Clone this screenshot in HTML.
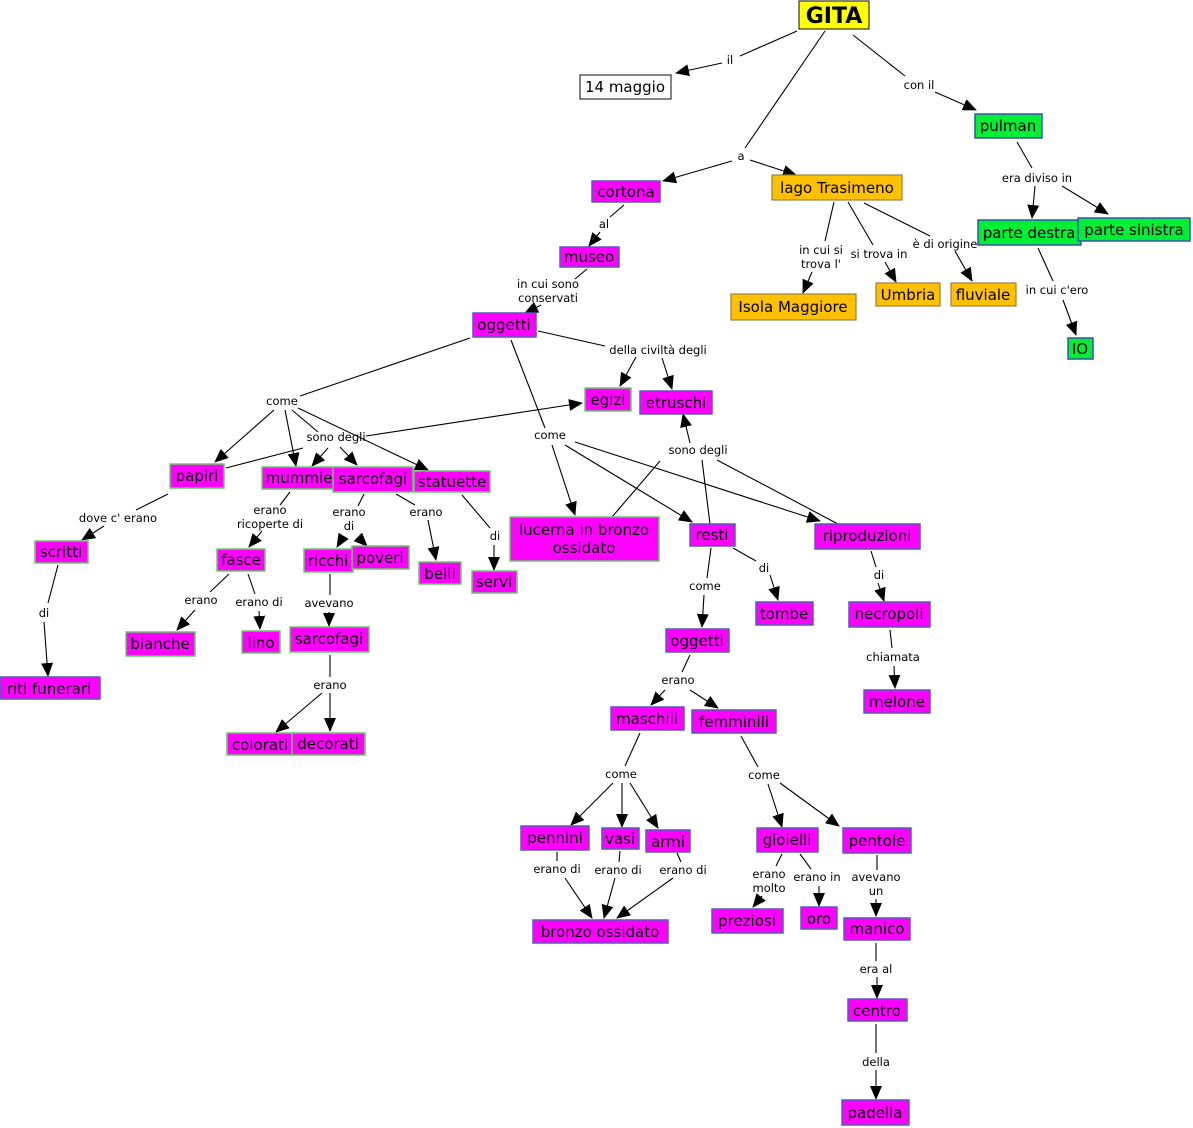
<!DOCTYPE html>
<html><head><meta charset="utf-8"><style>
html,body{margin:0;padding:0;background:#fff;}
svg{display:block;}
.n{font-family:"DejaVu Sans","Liberation Sans",sans-serif;font-size:15px;text-anchor:middle;fill:#000;}
.l{font-family:"DejaVu Sans","Liberation Sans",sans-serif;font-size:11.5px;text-anchor:middle;fill:#000;}
.m{fill:#ff00ff;stroke:#5a5ab8;stroke-width:1.5;}
.g{fill:#ff00ff;stroke:#6c6;stroke-width:1.5;}
.gr{fill:#00ee33;stroke:#3355aa;stroke-width:1.5;}
.o{fill:#ffc000;stroke:#9a8040;stroke-width:1.2;}
line{stroke:#000;stroke-width:1.1;}
line.a{marker-end:url(#ar);}
</style></head><body>
<svg width="1193" height="1128" viewBox="0 0 1193 1128" xmlns="http://www.w3.org/2000/svg">
<defs><marker id="ar" markerUnits="userSpaceOnUse" markerWidth="14" markerHeight="12" refX="13" refY="6" orient="auto"><path d="M0,0 L14,6 L0,12 z" fill="#000"/></marker></defs>

<!-- lines -->
<line x1="797" y1="31" x2="740" y2="56"/><line class="a" x1="722" y1="63" x2="676" y2="73"/>
<line x1="825" y1="31" x2="745" y2="148"/><line class="a" x1="732" y1="161" x2="663" y2="181"/><line class="a" x1="750" y1="160" x2="796" y2="175"/>
<line x1="853" y1="35" x2="905" y2="76"/><line class="a" x1="935" y1="92" x2="976" y2="110"/>
<line x1="1017" y1="142" x2="1032" y2="168"/><line class="a" x1="1035" y1="186" x2="1032" y2="218"/><line class="a" x1="1062" y1="186" x2="1108" y2="214"/>
<line x1="1038" y1="248" x2="1053" y2="281"/><line class="a" x1="1063" y1="300" x2="1076" y2="335"/>
<line x1="834" y1="202" x2="825" y2="241"/><line class="a" x1="812" y1="272" x2="803" y2="293"/>
<line x1="848" y1="202" x2="873" y2="245"/><line class="a" x1="885" y1="262" x2="896" y2="282"/>
<line x1="864" y1="203" x2="930" y2="236"/><line class="a" x1="955" y1="251" x2="972" y2="281"/>
<line x1="624" y1="205" x2="610" y2="217"/><line class="a" x1="600" y1="232" x2="589" y2="246"/>
<line x1="587" y1="269" x2="575" y2="279"/><line class="a" x1="541" y1="305" x2="525" y2="313"/>
<line x1="538" y1="331" x2="605" y2="346"/><line class="a" x1="636" y1="357" x2="620" y2="386"/><line class="a" x1="662" y1="358" x2="672" y2="389"/>
<line x1="470" y1="338" x2="300" y2="396"/>
<line class="a" x1="274" y1="410" x2="215" y2="462"/>
<line class="a" x1="285" y1="410" x2="296" y2="466"/>
<line x1="292" y1="410" x2="318" y2="432"/>
<line class="a" x1="298" y1="408" x2="428" y2="470"/>
<line class="a" x1="366" y1="436" x2="582" y2="403"/>
<line x1="226" y1="468" x2="303" y2="448"/>
<line class="a" x1="328" y1="448" x2="312" y2="466"/>
<line class="a" x1="340" y1="447" x2="357" y2="465"/>
<line x1="511" y1="340" x2="545" y2="428"/>
<line class="a" x1="552" y1="445" x2="575" y2="515"/>
<line class="a" x1="565" y1="445" x2="692" y2="522"/>
<line class="a" x1="575" y1="442" x2="820" y2="521"/>
<line class="a" x1="690" y1="443" x2="683" y2="414"/>
<line x1="660" y1="461" x2="612" y2="517"/>
<line x1="702" y1="460" x2="710" y2="524"/>
<line x1="717" y1="460" x2="838" y2="524"/>
<line x1="168" y1="494" x2="136" y2="510"/><line class="a" x1="104" y1="526" x2="82" y2="540"/>
<line x1="58" y1="565" x2="48" y2="603"/><line class="a" x1="44" y1="622" x2="48" y2="676"/>
<line x1="290" y1="492" x2="280" y2="505"/><line class="a" x1="262" y1="531" x2="249" y2="547"/>
<line x1="229" y1="574" x2="210" y2="592"/><line class="a" x1="195" y1="610" x2="177" y2="630"/>
<line x1="248" y1="574" x2="255" y2="594"/><line class="a" x1="259" y1="611" x2="260" y2="629"/>
<line x1="364" y1="494" x2="358" y2="506"/><line class="a" x1="343" y1="537" x2="337" y2="547"/><line class="a" x1="358" y1="537" x2="367" y2="546"/>
<line x1="396" y1="494" x2="415" y2="505"/><line class="a" x1="428" y1="520" x2="436" y2="560"/>
<line x1="462" y1="495" x2="490" y2="528"/><line class="a" x1="494" y1="545" x2="494" y2="570"/>
<line x1="330" y1="574" x2="330" y2="595"/><line class="a" x1="329" y1="612" x2="329" y2="626"/>
<line x1="330" y1="655" x2="330" y2="677"/><line class="a" x1="322" y1="693" x2="276" y2="732"/><line class="a" x1="330" y1="693" x2="330" y2="731"/>
<line x1="711" y1="548" x2="707" y2="578"/><line class="a" x1="704" y1="595" x2="702" y2="627"/>
<line x1="733" y1="548" x2="756" y2="561"/><line class="a" x1="770" y1="575" x2="778" y2="600"/>
<line x1="871" y1="551" x2="876" y2="567"/><line class="a" x1="878" y1="583" x2="884" y2="601"/>
<line x1="890" y1="630" x2="892" y2="648"/><line class="a" x1="894" y1="666" x2="895" y2="688"/>
<line x1="690" y1="655" x2="682" y2="672"/><line class="a" x1="665" y1="690" x2="651" y2="705"/><line class="a" x1="690" y1="690" x2="718" y2="708"/>
<line x1="640" y1="733" x2="625" y2="766"/><line class="a" x1="613" y1="783" x2="571" y2="825"/><line class="a" x1="622" y1="783" x2="622" y2="827"/><line class="a" x1="630" y1="783" x2="658" y2="828"/>
<line x1="741" y1="736" x2="758" y2="767"/><line class="a" x1="768" y1="784" x2="782" y2="827"/><line class="a" x1="780" y1="783" x2="839" y2="826"/>
<line x1="557" y1="852" x2="557" y2="861"/><line class="a" x1="565" y1="878" x2="592" y2="918"/>
<line x1="620" y1="851" x2="619" y2="862"/><line class="a" x1="615" y1="878" x2="604" y2="918"/>
<line x1="677" y1="853" x2="681" y2="862"/><line class="a" x1="673" y1="878" x2="617" y2="918"/>
<line x1="782" y1="854" x2="776" y2="866"/><line class="a" x1="762" y1="896" x2="753" y2="907"/>
<line x1="800" y1="854" x2="811" y2="869"/><line class="a" x1="819" y1="886" x2="819" y2="906"/>
<line x1="877" y1="855" x2="877" y2="870"/><line class="a" x1="876" y1="899" x2="876" y2="916"/>
<line x1="876" y1="943" x2="876" y2="961"/><line class="a" x1="877" y1="977" x2="877" y2="998"/>
<line x1="876" y1="1024" x2="876" y2="1053"/><line class="a" x1="876" y1="1070" x2="876" y2="1099"/>

<!-- labels -->
<g class="l">
<text x="730" y="64">il</text>
<text x="741" y="160">a</text>
<text x="919" y="89">con il</text>
<text x="1037" y="182">era diviso in</text>
<text x="1057" y="294">in cui c'ero</text>
<text x="821" y="254">in cui si</text><text x="821" y="268">trova l'</text>
<text x="879" y="258">si trova in</text>
<text x="945" y="248">è di origine</text>
<text x="604" y="228">al</text>
<text x="548" y="288">in cui sono</text><text x="548" y="302">conservati</text>
<text x="658" y="354">della civiltà degli</text>
<text x="282" y="405">come</text>
<text x="336" y="441">sono degli</text>
<text x="550" y="439">come</text>
<text x="698" y="454">sono degli</text>
<text x="118" y="522">dove c' erano</text>
<text x="44" y="617">di</text>
<text x="270" y="514">erano</text><text x="270" y="528">ricoperte di</text>
<text x="201" y="604">erano</text>
<text x="259" y="606">erano di</text>
<text x="349" y="516">erano</text><text x="349" y="530">di</text>
<text x="426" y="516">erano</text>
<text x="495" y="540">di</text>
<text x="329" y="607">avevano</text>
<text x="330" y="689">erano</text>
<text x="705" y="590">come</text>
<text x="764" y="572">di</text>
<text x="879" y="579">di</text>
<text x="893" y="661">chiamata</text>
<text x="678" y="684">erano</text>
<text x="621" y="778">come</text>
<text x="764" y="779">come</text>
<text x="557" y="873">erano di</text>
<text x="618" y="874">erano di</text>
<text x="683" y="874">erano di</text>
<text x="769" y="878">erano</text><text x="769" y="892">molto</text>
<text x="817" y="881">erano in</text>
<text x="876" y="881">avevano</text><text x="876" y="895">un</text>
<text x="876" y="973">era al</text>
<text x="876" y="1066">della</text>
</g>

<!-- nodes -->
<rect x="799" y="1" width="70" height="28" fill="#ffff00" stroke="#333" stroke-width="1.2"/>
<text x="834" y="23" class="n" style="font-size:22px;font-weight:bold">GITA</text>
<rect x="580" y="75" width="91" height="24" fill="#fff" stroke="#333" stroke-width="1.2"/><text x="625" y="92" class="n">14 maggio</text>
<rect class="gr" x="975" y="114" width="67" height="24"/><text x="1008" y="131" class="n">pulman</text>
<rect class="gr" x="978" y="220" width="103" height="25"/><text x="1029" y="238" class="n">parte destra</text>
<rect class="gr" x="1078" y="218" width="112" height="23"/><text x="1134" y="235" class="n">parte sinistra</text>
<rect class="gr" x="1068" y="338" width="25" height="21"/><text x="1080" y="354" class="n">IO</text>
<rect class="o" x="772" y="175" width="130" height="25"/><text x="837" y="193" class="n">lago Trasimeno</text>
<rect class="o" x="731" y="294" width="125" height="26"/><text x="793" y="312" class="n">Isola Maggiore</text>
<rect class="o" x="876" y="283" width="64" height="23"/><text x="908" y="300" class="n">Umbria</text>
<rect class="o" x="951" y="283" width="65" height="23"/><text x="983" y="300" class="n">fluviale</text>

<rect class="m" x="592" y="181" width="68" height="21"/><text x="626" y="197" class="n">cortona</text>
<rect class="m" x="560" y="247" width="59" height="20"/><text x="589" y="262" class="n">museo</text>
<rect class="m" x="473" y="313" width="63" height="24"/><text x="504" y="330" class="n">oggetti</text>
<rect class="g" x="585" y="388" width="46" height="23"/><text x="608" y="405" class="n">egizi</text>
<rect class="m" x="640" y="391" width="72" height="23"/><text x="676" y="408" class="n">etruschi</text>
<rect class="g" x="170" y="464" width="54" height="24"/><text x="197" y="481" class="n">papiri</text>
<rect class="g" x="262" y="467" width="75" height="22"/><text x="299" y="483" class="n">mummie</text>
<rect class="g" x="333" y="467" width="80" height="25"/><text x="373" y="484" class="n">sarcofagi</text>
<rect class="g" x="414" y="471" width="76" height="21"/><text x="452" y="487" class="n">statuette</text>
<rect class="g" x="510" y="517" width="149" height="44"/><text x="584" y="535" class="n">lucerna in bronzo</text><text x="584" y="553" class="n">ossidato</text>
<rect class="m" x="690" y="524" width="45" height="22"/><text x="712" y="540" class="n">resti</text>
<rect class="m" x="815" y="524" width="105" height="25"/><text x="867" y="541" class="n">riproduzioni</text>
<rect class="g" x="35" y="541" width="53" height="22"/><text x="61" y="557" class="n">scritti</text>
<rect class="g" x="217" y="549" width="48" height="22"/><text x="241" y="565" class="n">fasce</text>
<rect class="g" x="304" y="549" width="49" height="23"/><text x="328" y="566" class="n">ricchi</text>
<rect class="g" x="352" y="546" width="57" height="23"/><text x="380" y="563" class="n">poveri</text>
<rect class="g" x="419" y="562" width="42" height="22"/><text x="440" y="579" class="n">belli</text>
<rect class="g" x="472" y="571" width="45" height="22"/><text x="494" y="587" class="n">servi</text>
<rect class="m" x="756" y="602" width="57" height="23"/><text x="784" y="619" class="n">tombe</text>
<rect class="m" x="849" y="602" width="81" height="25"/><text x="889" y="619" class="n">necropoli</text>
<rect class="g" x="126" y="632" width="69" height="24"/><text x="160" y="649" class="n">bianche</text>
<rect class="g" x="242" y="631" width="38" height="22"/><text x="261" y="648" class="n">lino</text>
<rect class="g" x="290" y="627" width="79" height="25"/><text x="329" y="644" class="n">sarcofagi</text>
<rect class="m" x="666" y="629" width="63" height="23"/><text x="697" y="646" class="n">oggetti</text>
<rect class="m" x="0" y="677" width="100" height="22"/><text x="49" y="694" class="n">riti funerari</text>
<rect class="m" x="864" y="690" width="66" height="23"/><text x="897" y="707" class="n">melone</text>
<rect class="g" x="227" y="733" width="66" height="22"/><text x="260" y="750" class="n">colorati</text>
<rect class="g" x="292" y="733" width="73" height="22"/><text x="328" y="749" class="n">decorati</text>
<rect class="m" x="611" y="707" width="73" height="23"/><text x="647" y="724" class="n">maschili</text>
<rect class="m" x="692" y="710" width="84" height="23"/><text x="734" y="727" class="n">femminili</text>
<rect class="m" x="521" y="826" width="68" height="24"/><text x="555" y="843" class="n">pennini</text>
<rect class="m" x="602" y="828" width="37" height="21"/><text x="620" y="844" class="n">vasi</text>
<rect class="m" x="646" y="830" width="44" height="22"/><text x="668" y="847" class="n">armi</text>
<rect class="m" x="757" y="828" width="61" height="24"/><text x="787" y="845" class="n">gioielli</text>
<rect class="m" x="843" y="828" width="68" height="25"/><text x="877" y="846" class="n">pentole</text>
<rect class="m" x="533" y="920" width="135" height="23"/><text x="600" y="937" class="n">bronzo ossidato</text>
<rect class="m" x="712" y="909" width="71" height="24"/><text x="747" y="926" class="n">preziosi</text>
<rect class="m" x="801" y="907" width="36" height="22"/><text x="819" y="924" class="n">oro</text>
<rect class="m" x="844" y="918" width="66" height="22"/><text x="877" y="934" class="n">manico</text>
<rect class="m" x="848" y="999" width="59" height="22"/><text x="877" y="1016" class="n">centro</text>
<rect class="m" x="842" y="1100" width="67" height="25"/><text x="875" y="1118" class="n">padella</text>
</svg>
</body></html>
